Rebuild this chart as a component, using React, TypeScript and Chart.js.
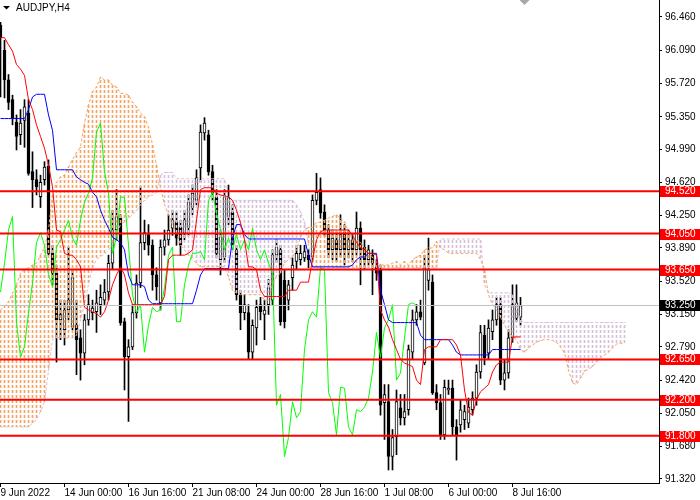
import React, { useEffect, useRef } from 'react';
import { Chart, registerables } from 'chart.js';
Chart.register(...registerables);

// ---------- DATA (AUDJPY H4) ----------
const opens = [
  96.37, 96.09, 95.76, 95.54, 95.29, 95.15, 95.31, 95.39, 94.74, 94.65,
  94.46, 94.65, 94.80, 93.83, 93.61, 93.09, 92.98, 93.20, 93.01, 93.03,
  92.89, 92.72, 93.09, 93.17, 93.18, 93.26, 93.31, 93.40, 93.72, 94.09,
  94.22, 93.07, 92.68, 92.79, 93.17, 93.50, 93.95, 94.04, 93.92, 93.59,
  93.28, 93.90, 93.98, 94.11, 94.18, 94.12, 94.06, 94.12, 94.34, 94.42,
  94.78, 95.17, 95.15, 94.74, 94.46, 93.76, 93.79, 94.24, 94.29, 93.87,
  93.37, 93.17, 93.17, 92.73, 93.00, 93.26, 93.15, 93.26, 93.31, 93.81,
  93.87, 93.53, 93.31, 93.56, 93.74, 93.76, 93.78, 93.81, 93.79, 94.42,
  94.54, 94.29, 94.09, 93.87, 93.98, 93.87, 94.06, 93.87, 93.98, 93.87,
  94.11, 93.90, 93.76, 93.81, 93.68, 93.65, 92.17, 92.18, 91.57, 91.79,
  92.11, 92.00, 92.09, 92.73, 93.09, 93.18, 92.61, 93.53, 93.51, 92.28,
  92.17, 91.81, 92.31, 92.33, 91.90, 91.92, 91.98, 91.94, 92.09, 92.22,
  92.51, 92.92, 92.72, 92.96, 93.09, 93.26, 92.42, 92.50, 92.89, 93.11,
  93.12,
];
const highs = [
  96.40, 96.20, 95.82, 95.59, 95.37, 95.43, 95.54, 95.54, 94.96, 94.76,
  94.70, 94.85, 94.87, 93.92, 93.70, 93.31, 93.31, 93.90, 93.65, 93.31,
  92.98, 93.15, 93.37, 93.31, 93.42, 93.48, 93.54, 93.81, 94.31, 94.54,
  94.26, 93.11, 92.87, 93.26, 93.59, 94.57, 94.20, 94.15, 93.98, 93.67,
  93.98, 94.09, 94.26, 94.31, 94.29, 94.20, 94.31, 94.48, 94.59, 94.76,
  95.26, 95.34, 95.20, 94.81, 94.54, 94.09, 94.54, 94.59, 94.37, 93.92,
  93.42, 93.37, 93.26, 93.09, 93.31, 93.34, 93.31, 93.54, 93.87, 93.98,
  93.92, 93.65, 93.53, 93.78, 93.92, 93.92, 93.92, 93.87, 94.48, 94.72,
  94.67, 94.37, 94.15, 94.09, 94.07, 94.26, 94.15, 94.09, 94.04, 94.29,
  94.18, 93.98, 93.92, 93.87, 93.76, 93.70, 92.37, 92.37, 91.87, 92.31,
  92.26, 92.26, 92.81, 93.20, 93.26, 93.31, 93.81, 94.00, 93.59, 92.37,
  92.26, 92.42, 92.42, 92.42, 91.98, 92.20, 92.14, 92.22, 92.29, 92.59,
  93.03, 93.03, 93.09, 93.20, 93.34, 93.34, 92.65, 92.98, 93.48, 93.48,
  93.34,
];
const lows = [
  95.57, 95.56, 95.43, 95.26, 94.98, 95.04, 95.01, 94.70, 94.34, 94.48,
  94.34, 94.59, 93.81, 93.48, 92.62, 92.87, 92.81, 93.09, 92.98, 92.48,
  92.42, 92.59, 93.03, 93.09, 92.95, 93.15, 93.26, 93.31, 93.65, 93.98,
  93.03, 92.31, 91.96, 92.76, 93.11, 93.45, 93.87, 93.81, 93.42, 93.31,
  93.20, 93.81, 93.92, 94.03, 93.92, 93.81, 93.98, 94.03, 94.26, 94.37,
  94.62, 95.09, 94.70, 94.42, 93.78, 93.59, 93.73, 94.15, 93.87, 93.31,
  92.98, 93.09, 92.65, 92.65, 92.81, 93.09, 92.87, 93.15, 93.26, 93.73,
  93.03, 93.00, 93.20, 93.42, 93.65, 93.70, 93.74, 93.67, 93.74, 94.37,
  94.22, 94.02, 93.78, 93.76, 93.74, 93.79, 93.70, 93.78, 93.74, 93.81,
  93.48, 93.65, 93.70, 93.37, 93.53, 92.03, 91.76, 91.42, 91.42, 91.59,
  91.92, 91.92, 92.03, 92.65, 93.03, 93.09, 92.59, 93.42, 92.26, 92.09,
  91.76, 91.76, 92.26, 91.81, 91.53, 91.84, 91.87, 91.89, 92.03, 92.14,
  92.44, 92.59, 92.65, 92.87, 93.03, 92.37, 92.31, 92.44, 92.84, 93.07,
  93.03,
];
const closes = [
  96.23, 95.76, 95.51, 95.34, 95.13, 95.28, 95.46, 94.72, 94.65, 94.57,
  94.62, 94.79, 93.83, 93.61, 93.09, 93.15, 93.20, 93.31, 93.56, 92.87,
  92.72, 93.09, 93.26, 93.22, 93.28, 93.34, 93.40, 93.72, 94.09, 94.24,
  93.06, 92.68, 92.79, 93.17, 93.50, 93.95, 94.06, 93.92, 93.59, 93.46,
  93.90, 93.98, 94.09, 94.20, 94.00, 93.92, 94.20, 94.40, 94.50, 94.67,
  95.18, 95.28, 94.74, 94.50, 93.83, 94.01, 94.46, 94.45, 93.92, 93.37,
  93.17, 93.26, 92.73, 93.03, 93.23, 93.18, 93.20, 93.45, 93.81, 93.90,
  93.07, 93.07, 93.48, 93.70, 93.83, 93.83, 93.85, 93.76, 94.42, 94.51,
  94.28, 94.09, 93.87, 94.00, 93.87, 94.04, 93.87, 93.98, 93.87, 94.11,
  93.87, 93.76, 93.87, 93.72, 93.61, 92.14, 92.26, 91.57, 91.78, 92.18,
  92.00, 92.07, 92.76, 93.09, 93.18, 93.12, 93.67, 93.65, 92.28, 92.17,
  91.81, 92.34, 92.33, 91.90, 91.81, 92.09, 92.07, 92.12, 92.22, 92.51,
  92.95, 92.67, 93.00, 93.09, 93.26, 92.42, 92.50, 92.89, 93.26, 93.28,
  93.25,
];
const tenkan = [
  96.23, 96.23, 96.15, 96.08, 95.93, 95.88, 95.81, 95.54, 95.43, 95.26,
  95.13, 95.00, 94.81, 94.57, 94.09, 94.07, 93.83, 93.81, 93.81, 93.76,
  93.68, 93.23, 93.20, 93.18, 93.16, 93.12, 93.18, 93.31, 93.48, 93.59,
  93.68, 93.59, 93.39, 93.26, 93.26, 93.26, 93.26, 93.26, 93.26, 93.26,
  93.26, 93.35, 93.76, 93.81, 93.81, 93.81, 93.81, 93.83, 93.87, 94.20,
  94.54, 94.56, 94.56, 94.56, 94.50, 94.48, 94.47, 94.46, 94.42, 94.31,
  94.17, 93.98, 93.68, 93.68, 93.65, 93.42, 93.35, 93.35, 93.35, 93.35,
  93.35, 93.35, 93.42, 93.42, 93.42, 93.51, 93.51, 93.51, 93.76, 93.98,
  94.07, 94.09, 94.09, 94.09, 94.09, 94.09, 94.09, 94.09, 94.03, 93.95,
  93.89, 93.87, 93.83, 93.83, 93.81, 93.20, 93.09, 93.01, 92.87, 92.76,
  92.65, 92.61, 92.59, 92.57, 92.42, 92.37, 92.76, 92.79, 92.79, 92.79,
  92.87, 92.87, 92.87, 92.87, 92.81, 92.70, 92.31, 92.06, 92.03, 92.20,
  92.29, 92.33, 92.37, 92.51, 92.59, 92.62, 92.62, 92.62, 92.90, 92.90,
  92.90,
];
const kijun = [
  95.33, 95.33, 95.33, 95.33, 95.33, 95.33, 95.33, 95.43, 95.57, 95.60,
  95.60, 95.60, 95.37, 95.20, 94.76, 94.76, 94.76, 94.76, 94.76, 94.68,
  94.65, 94.62, 94.60, 94.51, 94.46, 94.31, 94.20, 94.11, 94.01, 93.98,
  93.95, 93.87, 93.59, 93.48, 93.48, 93.48, 93.46, 93.31, 93.27, 93.27,
  93.27, 93.27, 93.27, 93.27, 93.27, 93.27, 93.27, 93.27, 93.27, 93.42,
  93.59, 93.66, 93.66, 93.66, 93.66, 93.66, 93.66, 93.66, 94.00, 94.15,
  94.15, 94.04, 93.99, 93.99, 93.99, 93.99, 93.99, 93.99, 93.99, 93.99,
  93.99, 93.99, 93.99, 93.99, 93.99, 93.99, 93.99, 93.81, 93.68, 93.68,
  93.68, 93.68, 93.68, 93.68, 93.68, 93.68, 93.68, 93.68, 93.70, 93.76,
  93.79, 93.79, 93.83, 93.83, 93.83, 93.42, 93.26, 93.09, 93.06, 93.06,
  93.06, 93.06, 93.06, 93.06, 93.06, 92.92, 92.87, 92.87, 92.87, 92.87,
  92.87, 92.87, 92.87, 92.81, 92.73, 92.70, 92.70, 92.70, 92.70, 92.70,
  92.70, 92.70, 92.70, 92.76, 92.76, 92.76, 92.76, 92.76, 92.76, 92.76,
  92.76,
];
const chikou = [
  93.40, 93.72, 94.09, 94.24, 93.06, 92.68, 92.79, 93.17, 93.50, 93.95,
  94.06, 93.92, 93.59, 93.46, 93.90, 93.98, 94.09, 94.20, 94.00, 93.92,
  94.20, 94.40, 94.50, 94.67, 95.18, 95.28, 94.74, 94.50, 93.83, 94.01,
  94.46, 94.45, 93.92, 93.37, 93.17, 93.26, 92.73, 93.03, 93.23, 93.18,
  93.20, 93.45, 93.81, 93.90, 93.07, 93.07, 93.48, 93.70, 93.83, 93.83,
  93.85, 93.76, 94.42, 94.51, 94.28, 94.09, 93.87, 94.00, 93.87, 94.04,
  93.87, 93.98, 93.87, 94.11, 93.87, 93.76, 93.87, 93.72, 93.61, 92.14,
  92.26, 91.57, 91.78, 92.18, 92.00, 92.07, 92.76, 93.09, 93.18, 93.12,
  93.67, 93.65, 92.28, 92.17, 91.81, 92.34, 92.33, 91.90, 91.81, 92.09,
  92.07, 92.12, 92.22, 92.51, 92.95, 92.67, 93.00, 93.09, 93.26, 92.42,
  92.50, 92.89, 93.26, 93.28, 93.25,
];
const spanA = [
  93.20, 93.24, 93.29, 93.39, 93.48, 93.61, 93.65, 93.67, 93.70, 93.72,
  93.81, 93.90, 94.09, 94.48, 94.62, 94.68, 94.70, 94.79, 94.87, 94.95,
  95.01, 95.28, 95.48, 95.63, 95.68, 95.79, 95.76, 95.76, 95.70, 95.68,
  95.61, 95.61, 95.59, 95.51, 95.46, 95.39, 95.35, 95.23, 95.04, 94.81,
  94.56, 94.37, 94.26, 94.15, 94.06, 93.92, 93.87, 93.81, 93.76, 93.72,
  93.68, 93.68, 93.68, 93.68, 93.68, 93.68, 93.68, 93.57, 93.42, 93.39,
  93.37, 93.37, 93.37, 93.37, 93.37, 93.37, 93.31, 93.31, 93.48, 93.57,
  93.61, 93.72, 93.76, 93.79, 93.87, 94.01, 94.09, 94.12, 94.12, 94.17,
  94.18, 94.20, 94.22, 94.24, 94.26, 94.22, 94.18, 94.07, 93.98, 93.98,
  93.95, 93.89, 93.83, 93.79, 93.74, 93.70, 93.70, 93.70, 93.72, 93.74,
  93.70, 93.74, 93.70, 93.76, 93.79, 93.81, 93.87, 93.89, 93.89, 93.96,
  93.89, 93.87, 93.83, 93.83, 93.83, 93.83, 93.83, 93.83, 93.83, 93.83,
  93.76, 93.65, 93.37, 93.26, 93.20, 93.12, 93.03, 92.96, 92.90, 92.87,
  92.76, 92.73, 92.78, 92.81, 92.84, 92.86, 92.87, 92.87, 92.86, 92.84,
  92.79, 92.72, 92.53, 92.39, 92.37, 92.44, 92.52, 92.54, 92.57, 92.62,
  92.67, 92.70, 92.73, 92.78, 92.82, 92.83, 92.83,
];
const spanB = [
  91.90, 91.90, 91.90, 91.90, 91.90, 91.90, 91.90, 91.90, 91.94, 91.98,
  92.07, 92.18, 92.53, 92.87, 92.89, 92.89, 92.89, 92.89, 92.89, 92.92,
  93.09, 93.26, 93.48, 93.67, 93.76, 93.80, 93.82, 93.87, 93.92, 94.04,
  94.15, 94.18, 94.22, 94.26, 94.31, 94.37, 94.42, 94.46, 94.48, 94.51,
  94.70, 94.73, 94.73, 94.73, 94.66, 94.66, 94.66, 94.66, 94.66, 94.66,
  94.66, 94.66, 94.66, 94.66, 94.66, 94.66, 94.66, 94.42, 94.42, 94.42,
  94.42, 94.42, 94.42, 94.42, 94.42, 94.42, 94.42, 94.42, 94.42, 94.42,
  94.42, 94.42, 94.42, 94.42, 94.37, 94.29, 94.18, 93.92, 93.67, 93.67,
  93.67, 93.67, 93.67, 93.67, 93.67, 93.67, 93.67, 93.67, 93.67, 93.67,
  93.67, 93.67, 93.67, 93.67, 93.67, 93.67, 93.67, 93.67, 93.67, 93.67,
  93.67, 93.67, 93.67, 93.67, 93.67, 93.67, 93.67, 93.67, 93.67, 93.67,
  93.99, 93.99, 93.99, 93.99, 93.99, 93.99, 93.99, 93.99, 93.99, 93.99,
  93.99, 93.48, 93.39, 93.39, 93.39, 93.39, 93.39, 93.39, 93.37, 93.26,
  93.09, 93.06, 93.06, 93.06, 93.06, 93.06, 93.06, 93.06, 93.06, 93.06,
  93.06, 93.06, 93.06, 93.06, 93.06, 93.06, 93.06, 93.06, 93.06, 93.06,
  93.06, 93.06, 93.06, 93.06, 93.06, 93.06, 93.06,
];
const levels = [94.52, 94.05, 93.65, 92.65, 92.2, 91.8];
const currentPrice = 93.25;
const yTicks = [96.46, 96.09, 95.72, 95.35, 94.99, 94.62, 94.25, 93.89, 93.52, 93.15, 92.79, 92.42, 92.05, 91.68, 91.32];
const xTickIdx = [0, 16, 32, 48, 64, 80, 96, 112, 128];
const xTickLabels = ['9 Jun 2022', '14 Jun 00:00', '16 Jun 16:00', '21 Jun 08:00', '24 Jun 00:00', '28 Jun 16:00', '1 Jul 08:00', '6 Jul 00:00', '8 Jul 16:00'];
const symbolTitle = 'AUDJPY,H4';

const X_MIN = -0.125;
const X_MAX = 164.625;
const Y_MIN = 91.275;
const Y_MAX = 96.649;
const FONT = { family: '"Liberation Sans", Arial, sans-serif', size: 10 };

export default function App() {
  const ref = useRef<HTMLCanvasElement>(null);

  useEffect(() => {
    const canvas = ref.current;
    if (!canvas) return;

    const makeHatch = (color: string) => {
      const c = document.createElement('canvas');
      c.width = 1;
      c.height = 5;
      const g = c.getContext('2d')!;
      g.fillStyle = color;
      g.fillRect(0, 0, 1, 3);
      return g.createPattern(c, 'repeat');
    };
    const orangeHatch = makeHatch('#F4A460');
    const thistleHatch = makeHatch('#D8BFD8');

    const idx = opens.map((_, i) => i);
    const wickData = idx.map((i) => ({ x: i, y: [lows[i], highs[i]] }));
    const bodyData = idx.map((i) => ({ x: i, y: [opens[i], closes[i]] }));
    const bodyColors = idx.map((i) => (closes[i] >= opens[i] ? '#ffffff' : '#000000'));
    const cloudData = spanA.map((a, k) => ({ x: k, y: [Math.min(a, spanB[k]), Math.max(a, spanB[k])] }));
    const cloudColors = spanA.map((a, k) => (a >= spanB[k] ? orangeHatch : thistleHatch));
    const toXY = (arr: number[]) => arr.map((v, i) => ({ x: i, y: v }));

    const lineBase = { type: 'line' as const, pointRadius: 0, borderWidth: 1, tension: 0, fill: false };

    const hLineSets = levels.map((lv) => ({
      ...lineBase,
      data: [{ x: X_MIN, y: lv }, { x: X_MAX, y: lv }],
      borderColor: '#ff0000',
      borderWidth: 2,
      order: 0,
    }));

    const overlay = {
      id: 'overlay',
      afterDraw(chart: any) {
        const ctx = chart.ctx as CanvasRenderingContext2D;
        const ys = chart.scales.y;
        const xs = chart.scales.x;
        const right = chart.chartArea.right;
        const W = chart.width;
        ctx.save();
        ctx.font = '10px "Liberation Sans", Arial, sans-serif';
        ctx.textBaseline = 'middle';
        ctx.textAlign = 'left';
        const box = (v: number, bg: string) => {
          const y = Math.round(ys.getPixelForValue(v));
          ctx.fillStyle = bg;
          ctx.fillRect(right + 1, y - 5, W - right - 1, 11);
          ctx.fillStyle = '#ffffff';
          ctx.fillText(v.toFixed(3), right + 6, y + 0.5);
        };
        levels.forEach((lv) => box(lv, '#ff0000'));
        box(currentPrice, '#000000');

        // chart title
        ctx.fillStyle = '#000000';
        ctx.beginPath();
        ctx.moveTo(3, 6);
        ctx.lineTo(10, 6);
        ctx.lineTo(6.5, 9.5);
        ctx.closePath();
        ctx.fill();
        ctx.fillText(symbolTitle, 16, 8);

        // chart shift marker
        const sx = xs.getPixelForValue(131);
        ctx.fillStyle = '#a8a8a8';
        ctx.beginPath();
        ctx.moveTo(sx - 5, 0);
        ctx.lineTo(sx + 5, 0);
        ctx.lineTo(sx, 5);
        ctx.closePath();
        ctx.fill();
        ctx.restore();
      },
    };

    const chart = new Chart(canvas, {
      type: 'bar',
      data: {
        datasets: [
          ...hLineSets,
          {
            ...lineBase,
            data: [{ x: X_MIN, y: currentPrice }, { x: X_MAX, y: currentPrice }],
            borderColor: '#c0c0c0',
            order: 1,
          },
          { ...lineBase, data: toXY(tenkan), borderColor: '#ff0000', order: 1 },
          { ...lineBase, data: toXY(kijun), borderColor: '#0000ff', order: 1 },
          { ...lineBase, data: toXY(chikou), borderColor: '#00ff00', order: 1 },
          { ...lineBase, data: toXY(spanA), borderColor: '#F4A460', borderDash: [3, 2], order: 2 },
          { ...lineBase, data: toXY(spanB), borderColor: '#D8BFD8', borderDash: [3, 2], order: 2 },
          {
            type: 'bar',
            data: cloudData as any,
            backgroundColor: cloudColors as any,
            borderWidth: 0,
            barThickness: 1,
            grouped: false,
            order: 3,
          },
          {
            type: 'bar',
            data: bodyData as any,
            backgroundColor: bodyColors,
            borderColor: '#000000',
            borderWidth: 1,
            borderSkipped: false,
            barThickness: 3,
            minBarLength: 1,
            grouped: false,
            order: 4,
          },
          {
            type: 'bar',
            data: wickData as any,
            backgroundColor: '#000000',
            borderWidth: 0,
            barThickness: 1,
            grouped: false,
            order: 5,
          },
        ] as any,
      },
      options: {
        animation: false,
        responsive: false,
        devicePixelRatio: 1,
        layout: { padding: 0 },
        plugins: { legend: { display: false }, tooltip: { enabled: false }, title: { display: false } },
        scales: {
          x: {
            type: 'linear',
            position: 'bottom',
            min: X_MIN,
            max: X_MAX,
            offset: false,
            afterBuildTicks: (s: any) => {
              s.ticks = xTickIdx.map((v) => ({ value: v }));
            },
            afterFit: (s: any) => {
              s.height = 17;
              s.paddingLeft = 0;
              s.paddingRight = 0;
            },
            ticks: {
              autoSkip: false,
              maxRotation: 0,
              minRotation: 0,
              align: 'start',
              padding: 0,
              color: '#000000',
              font: FONT,
              callback: (_v: any, i: number) => xTickLabels[i],
            },
            grid: { drawOnChartArea: false, drawTicks: true, tickLength: 4, color: '#000000', offset: false },
            border: { display: true, color: '#000000' },
          },
          y: {
            type: 'linear',
            position: 'right',
            min: Y_MIN,
            max: Y_MAX,
            afterBuildTicks: (s: any) => {
              s.ticks = yTicks.map((v) => ({ value: v }));
            },
            afterFit: (s: any) => {
              s.width = 41;
              s.paddingTop = 0;
              s.paddingBottom = 0;
            },
            ticks: {
              padding: 3,
              color: '#000000',
              font: FONT,
              callback: (v: any) => Number(v).toFixed(3),
            },
            grid: { drawOnChartArea: false, drawTicks: true, tickLength: 3, color: '#000000' },
            border: { display: true, color: '#000000' },
          },
        },
      } as any,
      plugins: [overlay],
    });

    return () => chart.destroy();
  }, []);

  return (
    <div style={{ position: 'fixed', left: 0, top: 0, width: 700, height: 500, background: '#ffffff' }}>
      <canvas ref={ref} width={700} height={500} style={{ display: 'block', width: 700, height: 500 }} />
    </div>
  );
}
